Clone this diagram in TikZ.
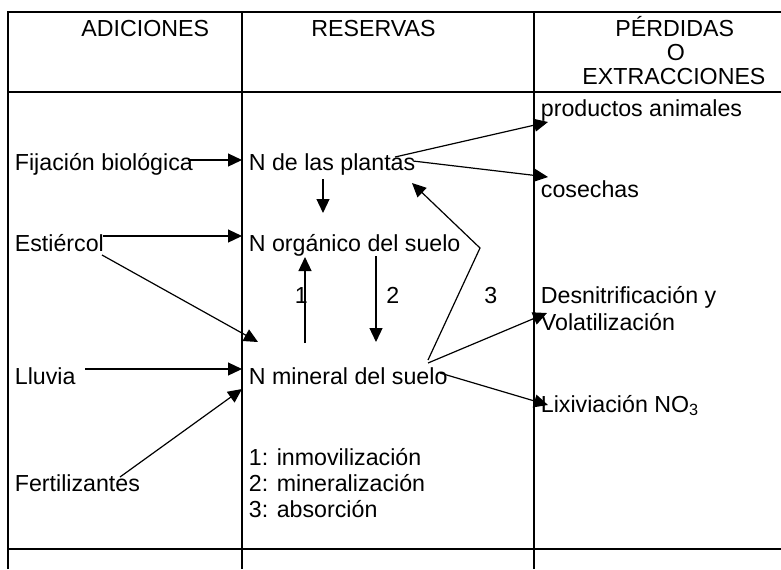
\documentclass[tikz,border=0pt]{standalone}
\usepackage{fontspec}
\setmainfont{Liberation Sans}
\usetikzlibrary{arrows.meta}

\tikzstyle{txt} = [anchor=base west, inner sep=0pt, font=\fontsize{11.6}{13.5}\selectfont]
\tikzstyle{rule} = [line width=0.7pt]
\tikzstyle{arrow} = [line width=0.6pt, -{Triangle[length=7pt,width=6.5pt]}]

\begin{document}
\begin{tikzpicture}[x=0.5pt, y=-0.5pt]

    \useasboundingbox (0,0) rectangle (781,569);

    \draw [rule] (8,569) -- (8,12) -- (781,12);
    \draw [rule] (8,92) -- (781,92);
    \draw [rule] (8,549) -- (781,549);
    \draw [rule] (242,12) -- (242,569);
    \draw [rule] (534,12) -- (534,569);

    \node (adic) [txt] at (81,36) {ADICIONES};
    \node (resv) [txt] at (311,36) {RESERVAS};
    \node (perd) [txt] at (615,36) {PÉRDIDAS};
    \node (perdo) [txt] at (666.5,60) {O};
    \node (extr) [txt] at (582,84) {EXTRACCIONES};

    \node (fij) [txt] at (14.5,170) {Fijación biológica};
    \node (est) [txt] at (14.5,251) {Estiércol};
    \node (llu) [txt] at (14.5,384) {Lluvia};
    \node (fer) [txt] at (14.5,491) {Fertilizantes};

    \node (npl) [txt] at (248.5,170) {N de las plantas};
    \node (norg) [txt] at (248.5,251) {N orgánico del suelo};
    \node (nmin) [txt] at (248.5,384) {N mineral del suelo};

    \node (one) [txt] at (294.5,303) {1};
    \node (two) [txt] at (386,303) {2};
    \node (three) [txt] at (484,303) {3};

    \node (leg1) [txt] at (248.5,465) {1: inmovilización};
    \node (leg2) [txt] at (248.5,491) {2: mineralización};
    \node (leg3) [txt] at (248.5,517) {3: absorción};

    \node (prod) [txt] at (540.5,116) {productos animales};
    \node (cos) [txt] at (540.5,197) {cosechas};
    \node (desn) [txt] at (540.5,303) {Desnitrificación y};
    \node (vol) [txt] at (540.5,330) {Volatilización};
    \node (lix) [txt] at (540.5,412) {Lixiviación NO\textsubscript{3}};

    \coordinate (bend) at (480,248);

    \draw [arrow] ([shift={(173.5,-10)}]fij.base west) -- ([shift={(-6.5,-10)}]npl.base west);
    \draw [arrow] ([shift={(88.5,-15)}]est.base west) -- ([shift={(-6.5,-15)}]norg.base west);
    \draw [arrow] ([shift={(87.5,4)}]est.base west) -- ([shift={(9.5,-42)}]nmin.base west);
    \draw [arrow] ([shift={(70.5,-15)}]llu.base west) -- ([shift={(-6.5,-15)}]nmin.base west);
    \draw [arrow] ([shift={(105.5,-14)}]fer.base west) -- ([shift={(-6.5,5)}]nmin.base west);

    \draw [arrow] ([shift={(74.5,9)}]npl.base west) -- ([shift={(74.5,-38)}]norg.base west);
    \draw [arrow] ([shift={(56.5,-41)}]nmin.base west) -- ([shift={(56.5,6)}]norg.base west);
    \draw [arrow] ([shift={(127.5,5)}]norg.base west) -- ([shift={(127.5,-42)}]nmin.base west);
    \draw [arrow] ([shift={(179.5,-24)}]nmin.base west) -- (bend) -- ([shift={(163.5,13)}]npl.base west);

    \draw [arrow] ([shift={(146.5,-13)}]npl.base west) -- ([shift={(7.5,6)}]prod.base west);
    \draw [arrow] ([shift={(164.5,-9)}]npl.base west) -- ([shift={(7.5,-20)}]cos.base west);
    \draw [arrow] ([shift={(179.5,-21)}]nmin.base west) -- ([shift={(6.5,-17)}]vol.base west);
    \draw [arrow] ([shift={(191.5,-11)}]nmin.base west) -- ([shift={(7.5,-7)}]lix.base west);

\end{tikzpicture}
\end{document}
